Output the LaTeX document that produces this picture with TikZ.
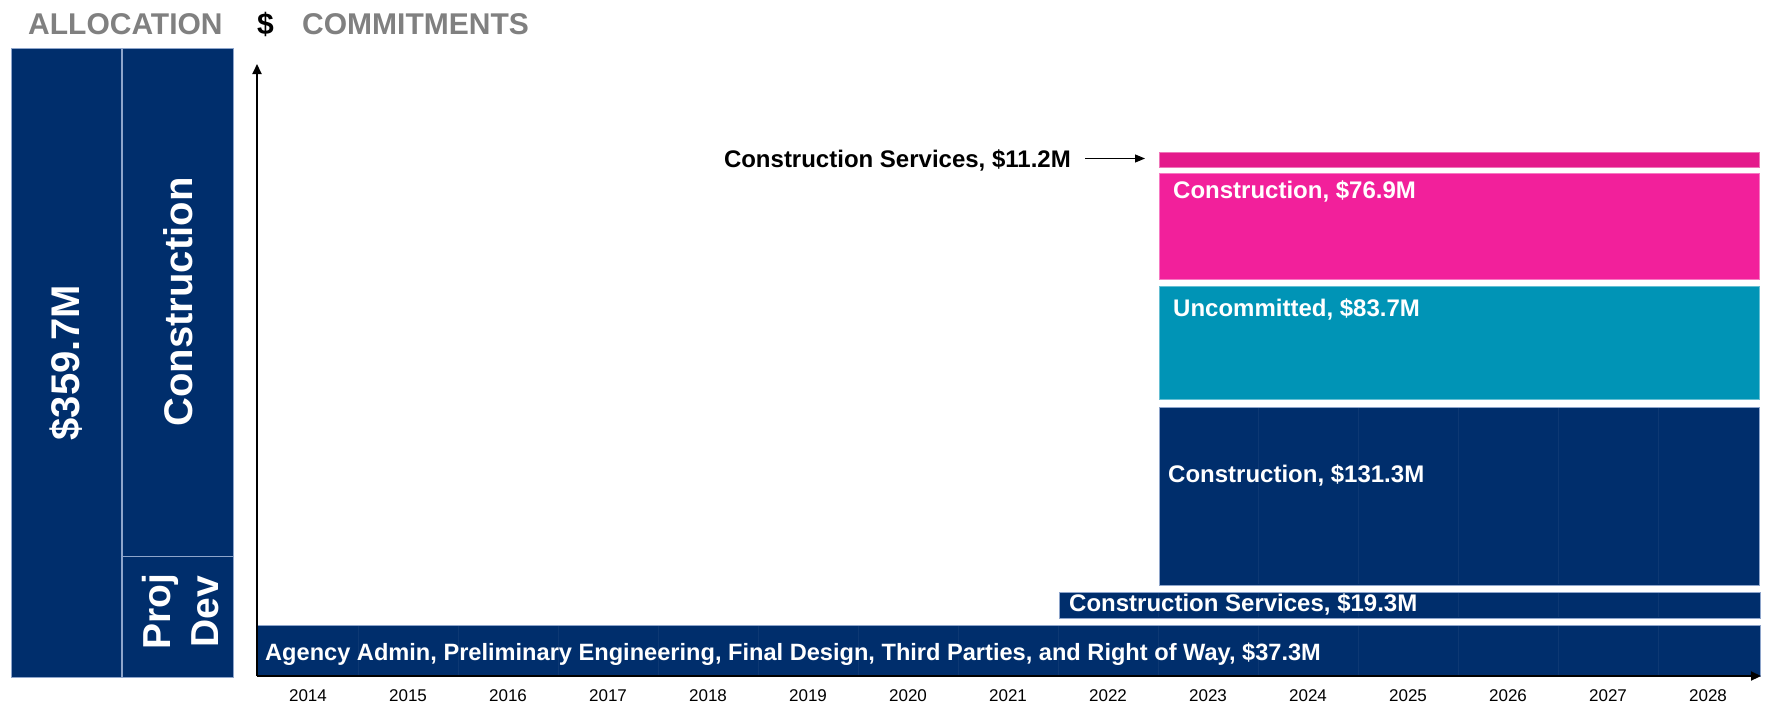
\documentclass[tikz,border=0pt]{standalone}
\usepackage{fontspec}
\setmainfont{Liberation Sans}
\usetikzlibrary{arrows.meta}
\definecolor{navy}{HTML}{002E6C}
\definecolor{tealbar}{HTML}{0094B6}
\definecolor{pinkA}{HTML}{F2209B}
\definecolor{pinkB}{HTML}{E41A8B}
\definecolor{hdrgray}{HTML}{808080}
\definecolor{edgeblue}{HTML}{8EA5CB}
\begin{document}
\begin{tikzpicture}[x=1pt,y=-1pt,
  box/.style={rectangle, inner sep=0pt, outer sep=0pt, draw=edgeblue, line width=0.8pt, fill=navy},
  barbox/.style={rectangle, inner sep=0pt, outer sep=0pt, line width=0.8pt},
  hdr/.style={anchor=base west, inner sep=0pt, font=\fontsize{30}{34}\selectfont\bfseries},
  barlbl/.style={anchor=base west, inner sep=0pt, text=white, font=\fontsize{24}{28}\selectfont\bfseries},
  vlbl/.style={rotate=90, inner sep=0pt, text=white, font=\fontsize{40}{48}\selectfont\bfseries},
  yearlbl/.style={anchor=base, inner sep=0pt, font=\fontsize{17}{20}\selectfont},
  axis/.style={line width=2pt, -{Triangle[length=10pt,width=9pt]}},
  conn/.style={line width=1pt, -{Triangle[length=10pt,width=8pt]}},
  grid/.style={line width=0.4pt, navy!95!white}
]
\useasboundingbox (0,0) rectangle (1768,709);
\fill[white] (0,0) rectangle (1768,709);

% header
\node[hdr, text=hdrgray] (halloc) at (28,35) {ALLOCATION};
\node[hdr, text=black] (hdollar) at (257,35) {\$};
\node[hdr, text=hdrgray] (hcommit) at (302,35) {COMMITMENTS};

% allocation column
\node[box, minimum width=110pt, minimum height=629pt] (total) at (66,362.5) {};
\node[box, minimum width=111pt, minimum height=508pt] (constr) at (177.5,302) {};
\node[box, minimum width=111pt, minimum height=121pt] (projdev) at (177.5,616.5) {};
\node[vlbl] (totallbl) at (66,362.5) {\$359.7M};
\node[vlbl] (constrlbl) at (178.5,302) {Construction};
\node[vlbl, font=\fontsize{39}{48}\selectfont\bfseries, align=center] (projdevlbl) at (181,612) {Proj\\Dev};

% bars
\node[barbox, fill=pinkB, draw=pinkB!60!white, minimum width=600pt, minimum height=15pt] (cs11) at (1459,159.5) {};
\node[barbox, fill=pinkA, draw=pinkA!60!white, minimum width=600pt, minimum height=106pt] (c769) at (1459,226) {};
\node[barbox, fill=tealbar, draw=tealbar!60!white, minimum width=600pt, minimum height=113pt] (unc) at (1459,342.5) {};
\node[barbox, fill=navy, draw=edgeblue, minimum width=600pt, minimum height=178pt] (c1313) at (1459,496) {};
\node[barbox, fill=navy, draw=edgeblue, minimum width=701pt, minimum height=26pt] (cs193) at (1409.5,605) {};
\node[barbox, fill=navy, draw=edgeblue, minimum width=1503pt, minimum height=51pt] (agency) at (1008.5,650.5) {};

% faint year gridlines inside navy bars
\foreach \gx in {358,458,...,1658}{
  \draw[grid] (\gx,626) -- (\gx,675);
}
\foreach \gx in {1158,1258,...,1658}{
  \draw[grid] (\gx,593) -- (\gx,617);
}
\foreach \gx in {1258,1358,...,1658}{
  \draw[grid] (\gx,408) -- (\gx,584);
}

% bar labels
\node[barlbl] (l769) at (1173,198) {Construction, \$76.9M};
\node[barlbl] (lunc) at (1173,316) {Uncommitted, \$83.7M};
\node[barlbl] (l1313) at (1168,482) {Construction, \$131.3M};
\node[barlbl] (l193) at (1069,611) {Construction Services, \$19.3M};
\node[barlbl, font=\fontsize{23.6}{28}\selectfont\bfseries] (lagency) at (265,660) {Agency Admin, Preliminary Engineering, Final Design, Third Parties, and Right of Way, \$37.3M};

% callout label and arrow
\node[barlbl, text=black, anchor=base east, text height=17pt, text depth=0pt] (l11) at (1071,167) {Construction Services, \$11.2M};
\draw[conn, shorten <=14pt, shorten >=14pt] (l11.east) -- (l11.east -| cs11.west);

% axes
\coordinate (origin) at (257,676);
\coordinate (ytip) at (257,64);
\coordinate (xtip) at (1761,676);
\draw[axis] (origin) -- (ytip);
\draw[axis] (origin) -- (xtip);

% years
\foreach \yr [count=\i from 0] in {2014,...,2028}{
  \node[yearlbl] (y\yr) at (308+100*\i,701) {\yr};
}
\end{tikzpicture}
\end{document}
